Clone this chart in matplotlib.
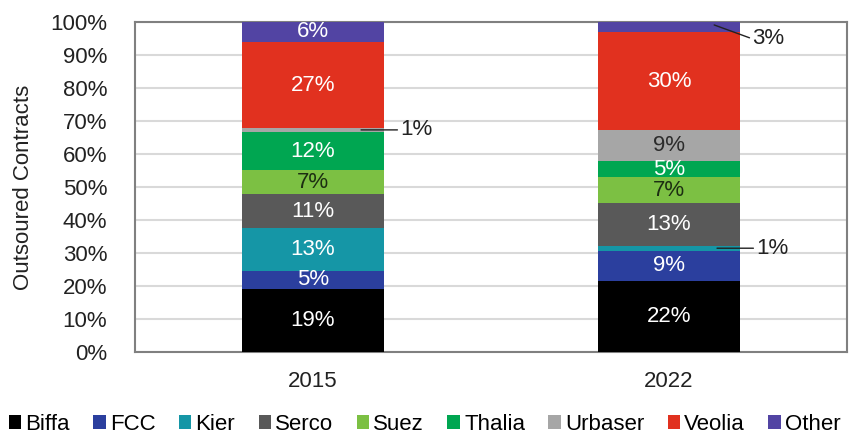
import matplotlib
matplotlib.use("Agg")
import matplotlib.pyplot as plt
import numpy as np

plt.rcParams['font.family'] = ['Liberation Sans', 'DejaVu Sans']

years = ["2015", "2022"]
companies = ["Biffa", "FCC", "Kier", "Serco", "Suez", "Thalia", "Urbaser", "Veolia", "Other"]
share_2015 = [19.1, 5.5, 12.9, 10.4, 7.1, 11.8, 1.0, 26.2, 6.0]
share_2022 = [21.5, 9.2, 1.5, 13.0, 7.7, 4.9, 9.4, 29.8, 3.0]
labels_2015 = ["19%", "5%", "13%", "11%", "7%", "12%", "1%", "27%", "6%"]
labels_2022 = ["22%", "9%", "1%", "13%", "7%", "5%", "9%", "30%", "3%"]

colors = {
    "Biffa": "#000000", "FCC": "#2b3f9e", "Kier": "#1596a6", "Serco": "#595959",
    "Suez": "#7cc043", "Thalia": "#00a651", "Urbaser": "#a6a6a6",
    "Veolia": "#e1311f", "Other": "#5244a3",
}
text_colors = {
    "Biffa": "white", "FCC": "white", "Kier": "white", "Serco": "white",
    "Suez": "#1c2e12", "Thalia": "white", "Urbaser": "#2b2b2b",
    "Veolia": "white", "Other": "white",
}
# small segments labelled outside with a leader line
outside = {("2015", "Urbaser"), ("2022", "Other"), ("2022", "Kier")}

FS = 16

data = np.array([share_2015, share_2022]).T
labels = np.array([labels_2015, labels_2022]).T

fig = plt.figure(figsize=(8.49, 4.44), dpi=100)
ax = fig.add_axes([0.159, 0.2072, 0.9976 - 0.159, 0.9505 - 0.2072])

x = np.arange(len(years))
width = 0.4
bottom = np.zeros(len(years))
for i, comp in enumerate(companies):
    vals = data[i]
    ax.bar(x, vals, width, bottom=bottom, color=colors[comp], label=comp, zorder=3)
    for j, yr in enumerate(years):
        mid = bottom[j] + vals[j] / 2
        if (yr, comp) in outside:
            if comp == "Other":
                start = (x[j] + width / 2 - 0.073, mid + 0.6)
                end = (x[j] + width / 2 + 0.034, mid - 3.6)
            else:
                start = (x[j] + width / 2 - 0.065, mid)
                end = (x[j] + width / 2 + 0.045, mid)
            ax.annotate(labels[i][j], xy=start, xytext=end,
                        fontsize=FS, color="#222222", va="center", ha="left",
                        annotation_clip=False, zorder=5,
                        arrowprops=dict(arrowstyle="-", color="#222222", lw=1,
                                        shrinkA=0, shrinkB=0, relpos=(0, 0.5)))
        else:
            ax.text(x[j], mid, labels[i][j], ha="center", va="center",
                    fontsize=FS, color=text_colors[comp], zorder=4)
    bottom += vals

ax.set_xlim(-0.5, 1.5)
ax.set_ylim(0, 100)
ax.set_yticks(np.arange(0, 101, 10))
ax.set_yticklabels([f"{v}%" for v in range(0, 101, 10)])
ax.set_xticks(x)
ax.set_xticklabels(years)
ax.tick_params(axis="both", length=0, labelsize=FS, colors="#222222")
ax.tick_params(axis="y", pad=20)
ax.tick_params(axis="x", pad=14)
ax.yaxis.grid(True, color="#d9d9d9", lw=1.5, zorder=0)
ax.set_axisbelow(True)
for s in ax.spines.values():
    s.set_color("#808080")
    s.set_linewidth(1.5)

ax.set_ylabel("Outsoured Contracts", fontsize=FS, color="#222222", labelpad=12)

ax.legend(loc="upper center", bbox_to_anchor=(0.407, -0.16), ncol=len(companies),
          frameon=False, fontsize=FS, handlelength=0.55, handleheight=0.55,
          handletextpad=0.2, columnspacing=1.05, borderaxespad=0)

fig.savefig("out.png", dpi=100)
